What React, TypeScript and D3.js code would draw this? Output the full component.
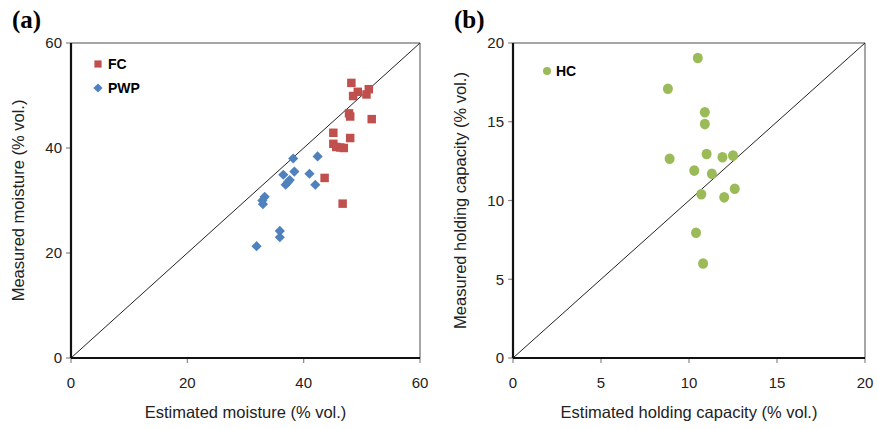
import React from "react";
import * as d3 from "d3";

// panel (a): field capacity / permanent wilting point (estimated, measured)
const fcEstimated = [48.2, 49.3, 48.5, 51.2, 50.8, 47.8, 48.0, 51.7, 45.1, 48.0, 45.1, 45.6, 46.9, 46.3, 43.6, 46.7];
const fcMeasured = [52.4, 50.7, 49.9, 51.2, 50.2, 46.6, 46.0, 45.5, 42.9, 41.9, 40.8, 40.2, 40.0, 40.1, 34.3, 29.4];
const pwpEstimated = [38.2, 42.4, 36.5, 38.4, 41.0, 37.6, 36.9, 37.3, 42.0, 33.3, 32.9, 33.0, 35.9, 35.9, 31.9];
const pwpMeasured = [38.0, 38.4, 34.9, 35.5, 35.1, 33.9, 33.0, 33.5, 33.0, 30.7, 30.0, 29.3, 24.2, 23.0, 21.3];

// panel (b): holding capacity
const hcEstimated = [10.5, 8.8, 10.9, 10.9, 8.9, 11.0, 11.9, 12.5, 10.3, 11.3, 10.7, 12.0, 12.6, 10.4, 10.8];
const hcMeasured = [19.05, 17.1, 15.6, 14.85, 12.65, 12.95, 12.75, 12.85, 11.9, 11.7, 10.4, 10.2, 10.75, 7.95, 6.0];

const ticksA = [0, 20, 40, 60];
const ticksB = [0, 5, 10, 15, 20];

const RED = "#C0504D";
const BLUE = "#4F81BD";
const GREEN = "#9BBB59";
const FONT = "Liberation Sans, Arial, sans-serif";

type PanelProps = {
  left: number;
  right: number;
  top: number;
  bottom: number;
  max: number;
  ticks: number[];
  xTitle: string;
  yTitle: string;
  letter: string;
  children: (x: d3.ScaleLinear<number, number>, y: d3.ScaleLinear<number, number>) => React.ReactNode;
};

function Panel({ left, right, top, bottom, max, ticks, xTitle, yTitle, letter, children }: PanelProps) {
  const x = d3.scaleLinear().domain([0, max]).range([left, right]);
  const y = d3.scaleLinear().domain([0, max]).range([bottom, top]);
  return (
    <g>
      <text x={left - 59} y={28} fontFamily="Liberation Serif, Times New Roman, serif" fontWeight="bold" fontSize={25}>
        {letter}
      </text>
      {/* frame */}
      <line x1={left} x2={right} y1={top} y2={top} stroke="#888" strokeWidth={1.5} />
      <line x1={right} x2={right} y1={top} y2={bottom} stroke="#888" strokeWidth={1.5} />
      {/* 1:1 line */}
      <line x1={x(0)} y1={y(0)} x2={x(max)} y2={y(max)} stroke="#222" strokeWidth={1} />
      {children(x, y)}
      {/* ticks */}
      {ticks.map((t) => (
        <g key={"t" + t}>
          <line x1={left - 5} x2={left} y1={y(t)} y2={y(t)} stroke="#888" strokeWidth={1.2} />
          <line x1={x(t)} x2={x(t)} y1={bottom} y2={bottom + 5} stroke="#888" strokeWidth={1.2} />
          <text x={left - 9} y={y(t)} dy="0.35em" textAnchor="end" fontFamily={FONT} fontSize={15} fill="#222">
            {t}
          </text>
          <text x={x(t)} y={bottom + 30} textAnchor="middle" fontFamily={FONT} fontSize={15} fill="#222">
            {t}
          </text>
        </g>
      ))}
      <line x1={left} x2={left} y1={top} y2={bottom} stroke="#111" strokeWidth={2.2} />
      <line x1={left} x2={right} y1={bottom} y2={bottom} stroke="#111" strokeWidth={2.2} />
      <text x={(left + right) / 2} y={bottom + 60} textAnchor="middle" fontFamily={FONT} fontSize={16.5} fill="#222">
        {xTitle}
      </text>
      <text
        transform={`translate(${left - 47},${(top + bottom) / 2}) rotate(-90)`}
        textAnchor="middle"
        fontFamily={FONT}
        fontSize={16.5}
        fill="#222"
      >
        {yTitle}
      </text>
    </g>
  );
}

export default function App() {
  const square = d3.symbol().type(d3.symbolSquare).size(72)();
  // diamond = square turned by 45 degrees
  const diamond = d3.symbol().type(d3.symbolSquare).size(52)();
  return (
    <svg width={878} height={429} style={{ position: "absolute", left: 0, top: 0 }}>
      <rect width={878} height={429} fill="#fff" />
      <Panel left={71} right={420} top={43} bottom={358} max={60} ticks={ticksA}
        xTitle="Estimated moisture (% vol.)" yTitle="Measured moisture (% vol.)" letter="(a)">
        {(x, y) => (
          <g>
            {pwpEstimated.map((e, i) => (
              <path key={"p" + i} d={diamond!} transform={`translate(${x(e)},${y(pwpMeasured[i])}) rotate(45)`} fill={BLUE} />
            ))}
            {fcEstimated.map((e, i) => (
              <path key={"f" + i} d={square!} transform={`translate(${x(e)},${y(fcMeasured[i])})`} fill={RED} />
            ))}
            <path d={square!} transform="translate(98,64) scale(0.85)" fill={RED} />
            <text x={108} y={64} dy="0.35em" fontFamily={FONT} fontWeight="bold" fontSize={14}>FC</text>
            <path d={diamond!} transform="translate(98,88) rotate(45) scale(0.9)" fill={BLUE} />
            <text x={108} y={88} dy="0.35em" fontFamily={FONT} fontWeight="bold" fontSize={14}>PWP</text>
          </g>
        )}
      </Panel>
      <Panel left={513} right={865} top={43} bottom={358} max={20} ticks={ticksB}
        xTitle="Estimated holding capacity (% vol.)" yTitle="Measured holding capacity (% vol.)" letter="(b)">
        {(x, y) => (
          <g>
            {hcEstimated.map((e, i) => (
              <ellipse key={"h" + i} cx={x(e)} cy={y(hcMeasured[i])} rx={5} ry={5.3} fill={GREEN} />
            ))}
            <circle cx={547} cy={71} r={4} fill={GREEN} />
            <text x={556} y={71} dy="0.35em" fontFamily={FONT} fontWeight="bold" fontSize={14}>HC</text>
          </g>
        )}
      </Panel>
    </svg>
  );
}
